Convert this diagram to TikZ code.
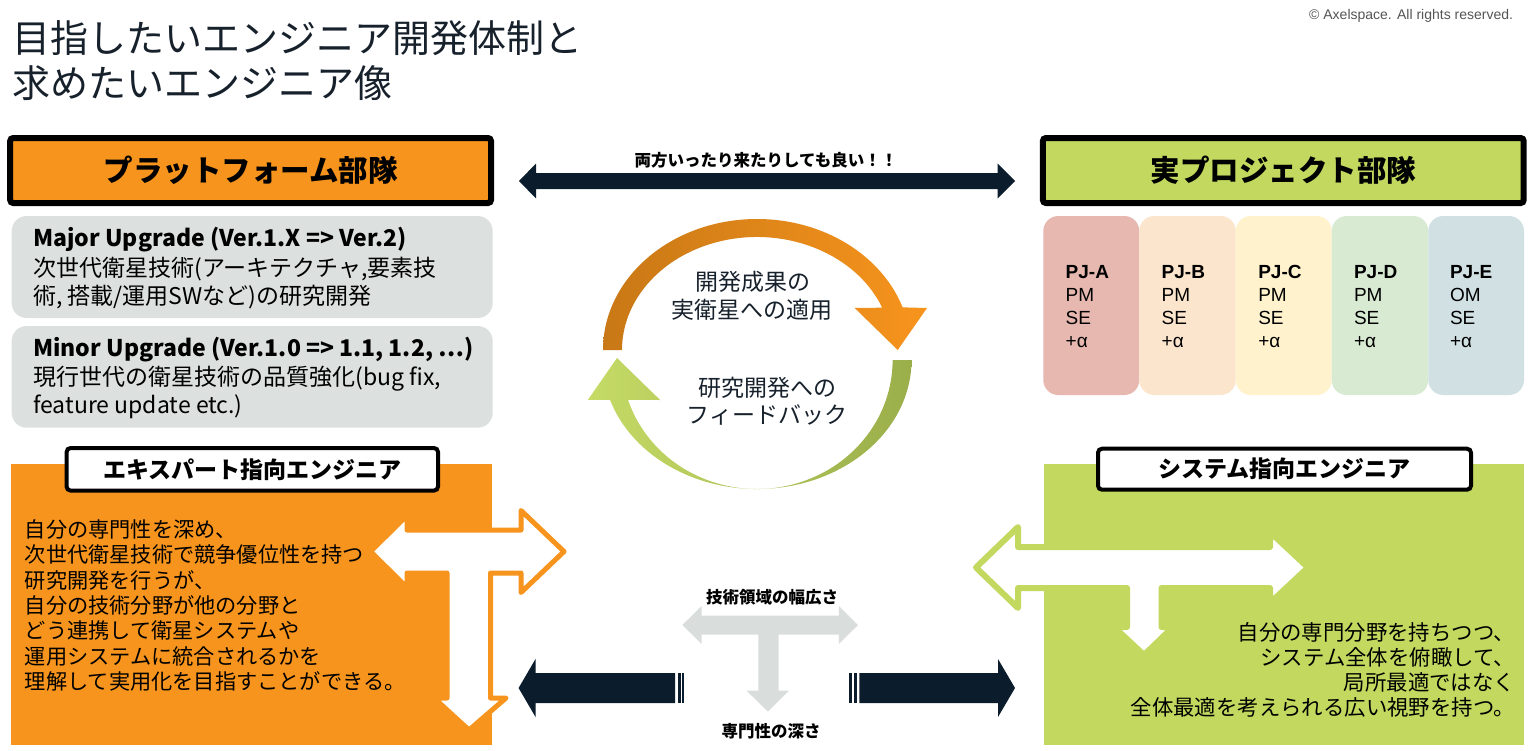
\documentclass[tikz,border=0pt]{standalone}
\usepackage{fontspec}
\setmainfont{Noto Sans CJK JP}
\newfontfamily\arialf{Liberation Sans}
\definecolor{orng}{HTML}{F7941D}
\definecolor{orngd}{HTML}{C87816}
\definecolor{grn}{HTML}{C2D85E}
\definecolor{grnd}{HTML}{9AAE4A}
\definecolor{grnl}{HTML}{C5DB66}
\definecolor{navy}{HTML}{0B1D2C}
\definecolor{lgray}{HTML}{DCE0DF}
\definecolor{tgray}{HTML}{D9DEDC}
\definecolor{ink}{HTML}{17212C}
\definecolor{pja}{HTML}{E6B8AF}
\definecolor{pjb}{HTML}{FCE5CD}
\definecolor{pjc}{HTML}{FFF2CC}
\definecolor{pjd}{HTML}{D9EAD3}
\definecolor{pje}{HTML}{D0E0E3}
\definecolor{copyc}{HTML}{555555}
\newcommand\fsz[1]{\fontsize{#1pt}{#1pt}\selectfont}
\begin{document}
\begin{tikzpicture}[x=0.5pt,y=-0.5pt,
  every node/.style={inner sep=0pt, outer sep=0pt, text=ink},
  hdrbox/.style={draw=black, line width=3pt, rounded corners=1.5pt, minimum width=240.4pt, minimum height=32.5pt, font=\fsz{14.75}\bfseries, text=black},
  lblbox/.style={draw=black, fill=white, line width=2pt, rounded corners=2pt, font=\fsz{11.5}\bfseries, text=black},
  graybox/.style={fill=lgray, rounded corners=7.5pt},
  pjbox/.style={rounded corners=7.5pt},
  pjtxt/.style={anchor=base west, font=\arialf\fsz{9.5}, text=black},
  boxtxt/.style={anchor=base west, font=\fsz{11.5}, text=black},
  cirtxt/.style={anchor=base, font=\fsz{11.5}},
  smallbold/.style={anchor=base, font=\fsz{8.25}\bfseries, text=black},
  lefttxt/.style={anchor=base west, font=\fsz{10.6}, text=black},
  righttxt/.style={anchor=base east, font=\fsz{10.7}, text=black},
  whiteT/.style={fill=white, line width=2.5pt, line join=round}
]
\useasboundingbox (0,0) rectangle (1536,750);
\fill[white] (0,0) rectangle (1536,750);

% title and copyright
\node[anchor=base west, font=\fsz{19}] (t1) at (12,52.5) {目指したいエンジニア開発体制と};
\node[anchor=base west, font=\fsz{19}] (t2) at (12,97.5) {求めたいエンジニア像};
\node[anchor=base east, font=\arialf\fsz{7}, text=copyc] (copy) at (1513,19) {© Axelspace. All rights reserved.};

% headers
\node[hdrbox, fill=orng] (plat) at (250.6,170.5) {プラットフォーム部隊};
\node[hdrbox, fill=grn] (proj) at (1283.3,170.5) {実プロジェクト部隊};

% gray boxes
\fill[graybox] (11.7,216) rectangle (492.7,318);
\fill[graybox] (11.7,326) rectangle (492.7,427.7);
\node[boxtxt, font=\fsz{11.5}\bfseries] (m1) at (33.3,246) {Major Upgrade (Ver.1.X => Ver.2)};
\node[boxtxt] (m2) at (33.3,276) {次世代衛星技術(アーキテクチャ,要素技};
\node[boxtxt] (m3) at (33.3,304) {術, 搭載/運用SWなど)の研究開発};
\node[boxtxt, font=\fsz{11.5}\bfseries] (n1) at (33.3,356) {Minor Upgrade (Ver.1.0 => 1.1, 1.2, …)};
\node[boxtxt] (n2) at (33.3,385) {現行世代の衛星技術の品質強化(bug fix,};
\node[boxtxt] (n3) at (33.3,413) {feature update etc.)};

% PJ boxes
\fill[pjbox, pja] (1043.3,216) rectangle (1139.3,395);
\fill[pjbox, pjb] (1139.3,216) rectangle (1235.7,395);
\fill[pjbox, pjc] (1235.7,216) rectangle (1331.7,395);
\fill[pjbox, pjd] (1331.7,216) rectangle (1428.3,395);
\fill[pjbox, pje] (1428.3,216) rectangle (1524,395);
\node[pjtxt, font=\arialf\fsz{9.5}\bfseries] (pa1) at (1065.7,278.5) {PJ-A};
\node[pjtxt] (pa2) at (1065.7,301.5) {PM};
\node[pjtxt] (pa3) at (1065.7,324.5) {SE};
\node[pjtxt] (pa4) at (1065.7,347.5) {+α};
\node[pjtxt, font=\arialf\fsz{9.5}\bfseries] (pb1) at (1161.7,278.5) {PJ-B};
\node[pjtxt] (pb2) at (1161.7,301.5) {PM};
\node[pjtxt] (pb3) at (1161.7,324.5) {SE};
\node[pjtxt] (pb4) at (1161.7,347.5) {+α};
\node[pjtxt, font=\arialf\fsz{9.5}\bfseries] (pc1) at (1258.3,278.5) {PJ-C};
\node[pjtxt] (pc2) at (1258.3,301.5) {PM};
\node[pjtxt] (pc3) at (1258.3,324.5) {SE};
\node[pjtxt] (pc4) at (1258.3,347.5) {+α};
\node[pjtxt, font=\arialf\fsz{9.5}\bfseries] (pd1) at (1354,278.5) {PJ-D};
\node[pjtxt] (pd2) at (1354,301.5) {PM};
\node[pjtxt] (pd3) at (1354,324.5) {SE};
\node[pjtxt] (pd4) at (1354,347.5) {+α};
\node[pjtxt, font=\arialf\fsz{9.5}\bfseries] (pe1) at (1450,278.5) {PJ-E};
\node[pjtxt] (pe2) at (1450,301.5) {OM};
\node[pjtxt] (pe3) at (1450,324.5) {SE};
\node[pjtxt] (pe4) at (1450,347.5) {+α};

% top double arrow
\fill[navy] (519,181) -- (536,163.5) -- (536,173) -- (997.6,173) -- (997.6,163.5) -- (1015,181)
  -- (997.6,198.5) -- (997.6,189) -- (536,189) -- (536,198.5) -- cycle;
\node[smallbold] (both) at (766,166.3) {両方いったり来たりしても良い！！};

% circular arrows
\shade[left color=orngd, right color=orng]
  (603,350) arc[start angle=180, end angle=341, x radius=154, y radius=131]
  -- (927,308) -- (897.7,350) -- (854.7,308)
  -- ({757+135*cos(338)},{350+113*sin(338)})
  arc[start angle=338, end angle=180, x radius=135, y radius=113] -- cycle;
\shade[left color=grnl, right color=grnd]
  (911.5,360) arc[start angle=0, end angle=162, x radius=154.5, y radius=129]
  -- (587.8,400) -- (617,358) -- (660.1,400)
  -- ({757+135.6*cos(162)},{360+129*sin(162)})
  arc[start angle=162, end angle=0, x radius=135.6, y radius=129] -- cycle;
\node[cirtxt] (c1) at (753,290.4) {開発成果の};
\node[cirtxt] (c2) at (752,318.7) {実衛星への適用};
\node[cirtxt] (c3) at (767,396.7) {研究開発への};
\node[cirtxt] (c4) at (767,423.7) {フィードバック};

% lower boxes
\fill[orng] (11,464) rectangle (492,745);
\fill[grn] (1043.5,464) rectangle (1524,745);

% left T arrow
\filldraw[whiteT, draw=orng]
  (370.5,551.5) -- (407,515.5) -- (407,530) -- (521,530) -- (521,510.5) -- (564,551.5)
  -- (521,592.5) -- (521,573) -- (490.5,573) -- (490.5,698) -- (506,698) -- (469,730)
  -- (434,698) -- (447,698) -- (447,573) -- (407,573) -- (407,587.5) -- cycle;

% right T arrow
\filldraw[whiteT, draw=grn, line width=3pt]
  (976,567.5) -- (1018,527) -- (1018,547) -- (1270,547) -- (1270,532) -- (1308,567.5)
  -- (1270,603) -- (1270,588) -- (1161.5,588) -- (1161.5,627) -- (1173,627) -- (1144,655)
  -- (1114,627) -- (1127,627) -- (1127,588) -- (1018,588) -- (1018,608) -- cycle;

% label boxes
\node[lblbox, minimum width=185.7pt, minimum height=21.3pt] (exp) at (252.3,469.3) {エキスパート指向エンジニア};
\node[lblbox, minimum width=186.5pt, minimum height=20.5pt] (sys) at (1284.5,469.2) {システム指向エンジニア};

% left text
\node[lefttxt] (l1) at (25,537.3) {自分の専門性を深め、};
\node[lefttxt] (l2) at (25,562.7) {次世代衛星技術で競争優位性を持つ};
\node[lefttxt] (l3) at (25,588.1) {研究開発を行うが、};
\node[lefttxt] (l4) at (25,613.5) {自分の技術分野が他の分野と};
\node[lefttxt] (l5) at (25,638.9) {どう連携して衛星システムや};
\node[lefttxt] (l6) at (25,664.3) {運用システムに統合されるかを};
\node[lefttxt] (l7) at (25,689.7) {理解して実用化を目指すことができる。};

% right text
\node[righttxt] (r1) at (1515,640) {自分の専門分野を持ちつつ、};
\node[righttxt] (r2) at (1515,665) {システム全体を俯瞰して、};
\node[righttxt] (r3) at (1515,690) {局所最適ではなく};
\node[righttxt] (r4) at (1515,715) {全体最適を考えられる広い視野を持つ。};

% bottom dark arrows
\fill[navy] (518.6,688) -- (535.5,659) -- (535.5,673) -- (675,673) -- (675,703) -- (535.5,703) -- (535.5,717) -- cycle;
\fill[navy] (677.7,673) rectangle (680.7,703);
\fill[navy] (682.3,673) rectangle (684.3,703);
\fill[navy] (1015,688) -- (998,659) -- (998,673) -- (859.3,673) -- (859.3,703) -- (998,703) -- (998,717) -- cycle;
\fill[navy] (854.3,673) rectangle (856.7,703);
\fill[navy] (849.3,673) rectangle (851.7,703);

% center gray T
\fill[tgray] (682.4,625) -- (701.7,606) -- (701.7,615.5) -- (838.9,615.5) -- (838.9,606) -- (858,625)
  -- (838.9,644) -- (838.9,634.5) -- (778.7,634.5) -- (778.7,690.7) -- (788.9,690.7) -- (768,711.7)
  -- (746.6,690.7) -- (758.4,690.7) -- (758.4,634.5) -- (701.7,634.5) -- (701.7,644) -- cycle;
\node[smallbold] (width) at (772,603.3) {技術領域の幅広さ};
\node[smallbold] (depth) at (771,737) {専門性の深さ};
\end{tikzpicture}
\end{document}
